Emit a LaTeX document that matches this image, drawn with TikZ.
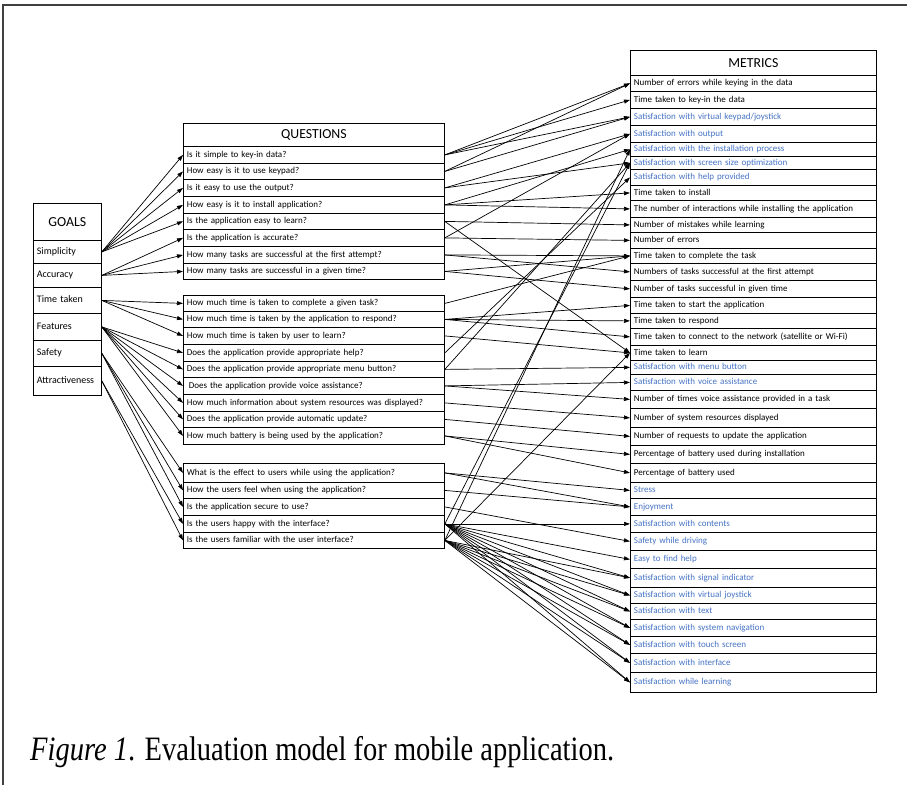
\documentclass[tikz,border=0pt]{standalone}
\usepackage{fontspec}
\setmainfont{Carlito}
\newfontfamily\capfont{Liberation Serif}
\usetikzlibrary{arrows.meta}
\definecolor{mblue}{RGB}{68,114,196}
\tikzset{
  rowbox/.style={draw, line width=0.8pt, anchor=north west, inner ysep=0pt, inner xsep=3.5pt, align=left, text height=6.3pt, text depth=1.8pt},
  goalrow/.style={rowbox, text width=61pt, font=\fontsize{10}{11}\selectfont},
  qrow/.style={rowbox, text width=254pt, font=\fontsize{9}{10}\selectfont},
  mrow/.style={rowbox, text width=239pt, font=\fontsize{9}{10}\selectfont},
  headbox/.style={draw, line width=0.8pt, anchor=north west, inner sep=0pt, font=\fontsize{13.8}{15}\selectfont},
  con/.style={line width=0.7pt, -{Triangle[length=6pt,width=4pt]}}
}
\begin{document}
\begin{tikzpicture}[x=1pt,y=-1pt]
  \useasboundingbox (0,0) rectangle (907,785);
  \draw[line width=1.2pt, black!75] (3,785) -- (3,5) -- (907,5);

  \node[headbox, minimum width=68pt, minimum height=37pt] (goals) at (33,203) {GOALS};
  \foreach \i/\a/\b/\t in {1/240/263/Simplicity, 2/263/287/Accuracy, 3/287/313/Time taken,
      4/313/340/Features, 5/340/366/Safety, 6/366/395/Attractiveness}
    \node[goalrow, minimum height={(\b-\a)*1pt}] (g\i) at (33,\a) {\t};

  \node[headbox, minimum width=261pt, minimum height=23pt] (questions) at (183,123) {QUESTIONS};
  \foreach \i/\a/\b/\t in {1/146/163/Is it simple to key-in data?,
      2/163/179/How easy is it to use keypad?,
      3/179/196/Is it easy to use the output?,
      4/196/213/How easy is it to install application?,
      5/213/229/Is the application easy to learn?,
      6/229/246/Is the application is accurate?,
      7/246/263/How many tasks are successful at the first attempt?,
      8/263/279/How many tasks are successful in a given time?,
      9/295/311/How much time is taken to complete a given task?,
      10/311/327/How much time is taken by the application to respond?,
      11/327/344/How much time is taken by user to learn?,
      12/344/361/Does the application provide appropriate help?,
      13/361/377/Does the application provide appropriate menu button?,
      14/377/394/\hspace{2pt}Does the application provide voice assistance?,
      15/394/411/How much information about system resources was displayed?,
      16/411/427/Does the application provide automatic update?,
      17/427/444/How much battery is being used by the application?,
      18/463/482/What is the effect to users while using the application?,
      19/482/498/How the users feel when using the application?,
      20/498/515/Is the application secure to use?,
      21/515/532/Is the users happy with the interface?,
      22/532/548/Is the users familiar with the user interface?}
    \node[qrow, minimum height={(\b-\a)*1pt}] (q\i) at (183,\a) {\t};

  \node[headbox, minimum width=246pt, minimum height=25pt] (metrics) at (630,50) {METRICS};
  \foreach \i/\a/\b/\c/\t in {1/75/91/black/Number of errors while keying in the data,
      2/91/108/black/Time taken to key-in the data,
      3/108/125/mblue/{Satisfaction with virtual keypad/joystick},
      4/125/142/mblue/Satisfaction with output,
      5/142/156/mblue/Satisfaction with the installation process,
      6/156/169/mblue/Satisfaction with screen size optimization,
      7/169/185/mblue/Satisfaction with help provided,
      8/185/200/black/Time taken to install,
      9/200/217/black/The number of interactions while installing the application,
      10/217/232/black/Number of mistakes while learning,
      11/232/248/black/Number of errors,
      12/248/263/black/Time taken to complete the task,
      13/263/280/black/Numbers of tasks successful at the first attempt,
      14/280/297/black/Number of tasks successful in given time,
      15/297/313/black/Time taken to start the application,
      16/313/328/black/Time taken to respond,
      17/328/345/black/Time taken to connect to the network (satellite or Wi-Fi),
      18/345/360/black/Time taken to learn,
      19/360/374/mblue/Satisfaction with menu button,
      20/374/390/mblue/Satisfaction with voice assistance,
      21/390/408/black/Number of times voice assistance provided in a task,
      22/408/427/black/Number of system resources displayed,
      23/427/445/black/Number of requests to update the application,
      24/445/463/black/Percentage of battery used during installation,
      25/463/482/black/Percentage of battery used,
      26/482/498/mblue/Stress,
      27/498/515/mblue/Enjoyment,
      28/515/532/mblue/Satisfaction with contents,
      29/532/550/mblue/Safety while driving,
      30/550/568/mblue/Easy to find help,
      31/568/587/mblue/Satisfaction with signal indicator,
      32/587/603/mblue/Satisfaction with virtual joystick,
      33/603/619/mblue/Satisfaction with text,
      34/619/636/mblue/Satisfaction with system navigation,
      35/636/653/mblue/Satisfaction with touch screen,
      36/653/672/mblue/Satisfaction with interface,
      37/672/692/mblue/Satisfaction while learning}
    \node[mrow, text=\c, minimum height={(\b-\a)*1pt}] (m\i) at (630,\a) {\t};

  \foreach \g/\q in {1/1,1/2,1/3,1/4,1/5,2/6,2/7,2/8,3/9,3/10,3/11,
      4/12,4/13,4/14,4/15,4/16,4/17,5/18,5/19,5/20,6/21,6/22}
    \draw[con] (g\g.east) -- (q\q.west);

  \foreach \q/\m in {1/1,1/2,1/3,2/1,2/3,3/4,3/6,4/5,4/8,4/9,5/10,5/18,6/11,6/4,
      7/12,7/13,8/12,8/14,9/12,10/15,10/16,10/17,11/18,12/7,13/19,13/6,
      14/20,14/21,15/22,16/23,17/24,17/25,18/26,18/27,19/27,20/29,
      21/28,21/30,21/31,21/32,21/33,21/34,21/35,21/36,21/37,21/6,
      22/31,22/32,22/33,22/34,22/35,22/36,22/37,22/5,22/18}
    \draw[con] (q\q.east) -- (m\m.west);

  \node[anchor=base west, inner sep=0pt, font=\capfont\fontsize{28.5}{30}\selectfont] (caption) at (30,760)
    {\scalebox{1}[1.2]{\textit{Figure 1}. Evaluation model for mobile application.}};
\end{tikzpicture}
\end{document}
